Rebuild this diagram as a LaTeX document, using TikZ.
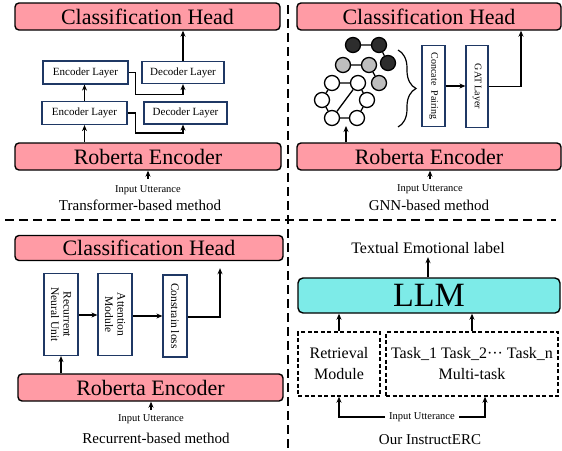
\documentclass[tikz,border=0pt]{standalone}
\usepackage{fontspec}
\setmainfont{Liberation Serif}
\usetikzlibrary{arrows.meta,decorations.pathreplacing,calc}
\definecolor{pinkfill}{RGB}{255,155,165}
\definecolor{cyanfill}{RGB}{125,235,232}
\definecolor{navy}{RGB}{31,56,100}
\definecolor{darknode}{RGB}{45,45,45}
\definecolor{graynode}{RGB}{190,190,190}
\begin{document}
\begin{tikzpicture}[x=1pt,y=-1pt,
  bigbox/.style={draw=black,line width=1.4pt,rounded corners=4pt,fill=pinkfill,inner sep=0pt,font=\fontsize{22}{24}\selectfont},
  llmbox/.style={draw=black,line width=1.4pt,rounded corners=5pt,fill=cyanfill,inner sep=0pt,font=\fontsize{34}{36}\selectfont},
  layer/.style={draw=navy,line width=1.2pt,fill=white,inner sep=0pt,font=\fontsize{11}{12}\selectfont},
  vbox/.style={layer,rotate=-90,align=center,font=\fontsize{11.5}{12.5}\selectfont},
  dbox/.style={draw=black,line width=1.4pt,dash pattern=on 4pt off 2.5pt,inner sep=0pt,align=center,font=\fontsize{16}{21}\selectfont},
  arr/.style={-{Stealth[length=6pt,width=5pt]},line width=1.4pt},
  inp/.style={font=\fontsize{10.5}{12}\selectfont,inner sep=4pt},
  captxt/.style={font=\fontsize{15}{17}\selectfont,inner sep=1pt},
  divider/.style={line width=2.8pt,dash pattern=on 9pt off 5pt},
  gnode/.style={circle,draw=black,line width=1.3pt,minimum size=15,inner sep=0pt},
  gedge/.style={line width=1.3pt}
]
\useasboundingbox (0,0) rectangle (562,450);

% dividers
\draw[divider] (5,220) -- (556,220);
\draw[divider] (288,5) -- (288,450);

% ---------- Transformer-based (top left)
\node[bigbox,minimum width=265,minimum height=27] (ch1) at (147.5,16.5) {Classification Head};
\node[bigbox,minimum width=266,minimum height=27] (re1) at (148,156.5) {Roberta Encoder};
\node[layer,minimum width=85,minimum height=23] (enc1t) at (85.5,72.5) {Encoder Layer};
\node[layer,minimum width=85,minimum height=23] (enc1b) at (84.5,113) {Encoder Layer};
\node[layer,minimum width=82,minimum height=22] (dec1t) at (183,72.5) {Decoder Layer};
\node[layer,minimum width=83,minimum height=22] (dec1b) at (185.5,113) {Decoder Layer};
\draw[arr] (enc1b.south |- re1.north) -- (enc1b.south);
\draw[arr] (enc1b.north) -- (enc1b.north |- enc1t.south);
\draw[arr] (enc1t.east) -- ++(7,0) -- ++(0,22) -| (dec1t.south);
\draw[arr] (enc1b.east) -- ++(8,0) -- ++(0,20) -| ($(dec1b.south)+(-2.5,0)$);
\draw[arr] (dec1t.north) -- (dec1t.north |- ch1.south);
\node[inp] (in1) at (148,190) {Input Utterance};
\coordinate (ia1) at (148,179);
\draw[arr] (ia1) -- (ia1 |- re1.south);
\node[captxt] (cap1) at (140,205) {Transformer-based method};

% ---------- GNN-based (top right)
\node[bigbox,minimum width=264,minimum height=27] (ch2) at (429,16.5) {Classification Head};
\node[bigbox,minimum width=264,minimum height=27] (re2) at (429,156.5) {Roberta Encoder};
\node[vbox,font=\fontsize{10}{11}\selectfont,minimum width=81,minimum height=23] (cp) at (433.5,86) {Concate\ \ Pairing};
\node[vbox,font=\fontsize{10}{11}\selectfont,minimum width=82,minimum height=22] (gat) at (477,86.5) {GAT Layer};
\draw[arr] (cp.north) -- (cp.north -| gat.south);
\draw[arr] (gat.north) -| ($(ch2.south)+(92,0)$);
% graph
\node[gnode,fill=darknode] (b1) at (353,45) {};
\node[gnode,fill=darknode] (b2) at (379,45) {};
\node[gnode,fill=darknode] (b3) at (388,63) {};
\node[gnode,fill=graynode] (g1) at (343,65) {};
\node[gnode,fill=graynode] (g2) at (369,65) {};
\node[gnode,fill=graynode] (g3) at (379,83) {};
\node[gnode,fill=white] (w1) at (332,83) {};
\node[gnode,fill=white] (w2) at (358,83) {};
\node[gnode,fill=white] (w3) at (322,100) {};
\node[gnode,fill=white] (w4) at (367,100) {};
\node[gnode,fill=white] (w5) at (332,118) {};
\node[gnode,fill=white] (w6) at (357,118) {};
\draw[gedge] (b1) -- (b2) (b2) -- (b3) (g1) -- (g2) (g2) -- (g3)
  (w1) -- (w2) (w1) -- (w3) (w2) -- (w4) (w3) -- (w5) (w4) -- (w6) (w5) -- (w6) (w2) -- (w5);
\coordinate (gb) at (346,126);
\draw[arr] (gb |- re2.north) -- (gb);
\draw[line width=1.2pt,decorate,decoration={brace,amplitude=18pt,aspect=0.5}] (398,50) -- (398,127);
\node[inp] (in2) at (430,189) {Input Utterance};
\coordinate (ia2) at (430,179);
\draw[arr] (ia2) -- (ia2 |- re2.south);
\node[captxt] (cap2) at (429,205) {GNN-based method};

% ---------- Recurrent-based (bottom left)
\node[bigbox,minimum width=268,minimum height=25] (ch3) at (149,248) {Classification Head};
\node[bigbox,minimum width=265,minimum height=27] (re3) at (150.5,387.5) {Roberta Encoder};
\node[vbox,minimum width=82,minimum height=34] (rnn) at (61,314.5) {Recurrent\\Neural Unit};
\node[vbox,minimum width=82,minimum height=34] (att) at (115,314.5) {Attention\\Module};
\node[vbox,minimum width=82,minimum height=24] (con) at (175,316) {Constrain loss};
\draw[arr] (rnn.north |- 0,315) -- (att.south |- 0,315);
\draw[arr] (att.north |- 0,316) -- (con.south |- 0,316);
\draw[arr] (con.north |- 0,317) -| ($(ch3.south)+(71,7)$);
\draw[arr] (rnn.east |- re3.north) -- (rnn.east);
\node[inp] (in3) at (151,419) {Input Utterance};
\coordinate (ia3) at (151,410);
\draw[arr] (ia3) -- (ia3 |- re3.south);
\node[captxt] (cap3) at (156,438) {Recurrent-based method};

% ---------- Our InstructERC (bottom right)
\node[font=\fontsize{16}{18}\selectfont] (tel) at (428,248) {Textual Emotional label};
\node[llmbox,minimum width=262,minimum height=35] (llm) at (429,295.5) {LLM};
\node[dbox,minimum width=82,minimum height=64] (ret) at (339,364) {Retrieval\\Module};
\node[dbox,minimum width=172,minimum height=64] (mt) at (472,364) {Task\_1 Task\_2··· Task\_n\\Multi-task};
\draw[arr] (tel.south |- llm.north) -- (tel.south);
\draw[arr] (ret.north) -- (ret.north |- llm.south);
\draw[arr] (mt.north) -- (mt.north |- llm.south);
\node[inp] (in4) at (422,417) {Input Utterance};
\draw[arr] (in4.west) -| (ret.south);
\draw[arr] (in4.east) -| ($(mt.south)+(13,0)$);
\node[captxt] (cap4) at (430,440) {Our InstructERC};
\end{tikzpicture}
\end{document}
